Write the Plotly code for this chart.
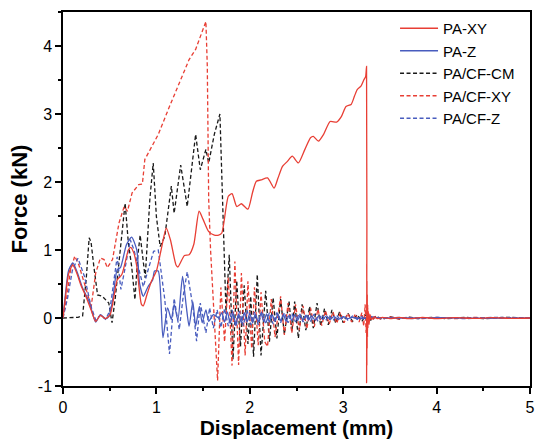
import plotly.graph_objects as go

# ---------------- data ----------------
pa_xy_x = [0, 0.03, 0.06, 0.105, 0.15, 0.19, 0.25, 0.30, 0.35, 0.40, 0.455, 0.505, 0.55, 0.58, 0.63,
           0.70, 0.725, 0.76, 0.79, 0.84, 0.86, 0.90, 0.95, 1.00, 1.05, 1.106, 1.15, 1.21, 1.23, 1.30,
           1.35, 1.40, 1.457, 1.50, 1.56, 1.62, 1.667, 1.70, 1.77, 1.81, 1.86, 1.91, 1.98, 2.03, 2.07,
           2.12, 2.19, 2.26, 2.30, 2.35, 2.40, 2.455, 2.52, 2.59, 2.65, 2.68, 2.735, 2.79, 2.86, 2.93,
           2.98, 3.03, 3.085, 3.12, 3.15, 3.19, 3.22, 3.24, 3.25, 3.2505, 3.252, 3.2535, 3.255, 3.2565,
           3.258, 3.26, 3.262, 3.265, 3.268, 3.272, 3.277, 3.283, 3.29, 3.30, 3.33, 3.37, 3.42, 3.50,
           3.60, 3.70, 3.85, 4.00, 4.20, 4.40, 4.60, 4.80, 5.00]
pa_xy_y = [0, 0.35, 0.65, 0.78, 0.65, 0.49, 0.30, 0.12, -0.05, 0.04, -0.01, 0.05, 0.35, 0.56, 0.64,
           1.00, 1.04, 0.95, 0.76, 0.20, 0.18, 0.35, 0.55, 0.69, 1.00, 1.32, 1.15, 0.78, 0.75, 0.92,
           0.93, 1.08, 1.57, 1.45, 1.27, 1.22, 1.22, 1.25, 1.79, 1.83, 1.64, 1.68, 1.60, 1.85, 2.01,
           2.03, 2.06, 1.91, 2.05, 2.23, 2.30, 2.38, 2.28, 2.48, 2.65, 2.67, 2.60, 2.70, 2.89, 2.88,
           2.96, 3.11, 3.14, 3.26, 3.36, 3.41, 3.50, 3.55, 3.70, -0.95, 0.80, -0.70, 0.55, -0.45,
           0.35, -0.28, 0.20, -0.15, 0.10, -0.08, 0.06, -0.04, 0.03, -0.02, 0.015, -0.01, 0.01, -0.01,
           0.01, -0.01, 0.008, -0.008, 0.006, -0.006, 0.005, -0.005, 0.0]

pa_z_x = [0, 0.03, 0.06, 0.105, 0.15, 0.21, 0.28, 0.35, 0.40, 0.455, 0.49, 0.53, 0.58, 0.615, 0.68,
          0.735, 0.79, 0.82, 0.86, 0.91, 0.96, 0.98, 1.02, 1.07, 1.12, 1.16, 1.19, 1.23, 1.28, 1.32,
          1.35, 1.39, 1.42, 1.46, 1.49, 1.53, 1.56, 1.61, 1.67, 1.70, 1.73, 1.76, 1.79, 1.82, 1.85,
          1.88, 1.91, 1.94, 1.97, 2.00, 2.03, 2.06, 2.09, 2.12, 2.15, 2.18, 2.21, 2.24, 2.27, 2.30,
          2.33, 2.36, 2.39, 2.42, 2.45, 2.48, 2.51, 2.54, 2.57, 2.60, 2.63, 2.66, 2.70, 2.74, 2.78,
          2.82, 2.86, 2.90, 2.95, 3.00, 3.05, 3.10, 3.20, 3.30, 3.50, 4.00, 4.50, 5.00]
pa_z_y = [0, 0.40, 0.70, 0.81, 0.68, 0.44, 0.24, -0.06, 0.05, -0.01, 0.02, 0.25, 0.71, 0.74, 1.08,
          1.19, 1.00, 0.51, 0.32, 0.46, 0.56, 0.69, 0.69, -0.29, 0.15, -0.02, 0.20, -0.03, 0.61, 0.17,
          -0.12, 0.24, -0.12, 0.17, -0.07, 0.12, -0.05, 0.05, 0.00, 0.08, -0.06, 0.09, -0.08, 0.07, -0.09,
          0.06, -0.07, 0.08, -0.06, 0.07, -0.07, 0.06, -0.06, 0.07, -0.05, 0.06, -0.06, 0.05, -0.05, 0.06,
          -0.04, 0.05, -0.05, 0.04, -0.04, 0.05, -0.04, 0.04, -0.03, 0.04, -0.03, 0.03, -0.03, 0.03, -0.02,
          0.03, -0.02, 0.02, -0.02, 0.02, -0.01, 0.01, -0.01, 0.01, 0.0, 0.005, -0.005, 0.0]

cf_cm_x = [0, 0.10, 0.16, 0.21, 0.25, 0.28, 0.30, 0.33, 0.37, 0.42, 0.49, 0.525, 0.56, 0.595, 0.665,
           0.70, 0.735, 0.77, 0.80, 0.826, 0.88, 0.93, 0.966, 1.00, 1.04, 1.09, 1.16, 1.19, 1.26, 1.33,
           1.42, 1.47, 1.53, 1.56, 1.62, 1.68, 1.70, 1.72, 1.745, 1.78, 1.82, 1.86, 1.90, 1.94, 1.98,
           2.01, 2.04, 2.08, 2.12, 2.17, 2.21, 2.25, 2.29, 2.33, 2.37, 2.42, 2.45, 2.48, 2.52, 2.56,
           2.60, 2.64, 2.68, 2.72, 2.76, 2.80, 2.84, 2.88, 2.92, 2.96, 3.00, 3.05, 3.10, 3.15, 3.20,
           3.25, 3.30, 3.35, 3.42, 3.50, 3.60, 3.70, 3.80, 3.95, 4.10, 4.30, 4.50, 4.75, 5.00]
cf_cm_y = [0, 0.00, 0.01, 0.03, 0.60, 1.18, 1.12, 0.76, 0.34, 0.32, 0.22, -0.07, 0.30, 0.76, 1.69,
           1.10, 0.76, 0.27, 0.90, 1.22, 0.59, 1.75, 2.28, 1.49, 1.05, 1.20, 1.94, 1.54, 2.25, 1.64,
           2.70, 2.18, 2.48, 2.28, 2.70, 3.00, 2.00, 1.00, 0.10, 0.93, -0.61, 0.55, -0.42, 0.48, -0.38,
           0.32, -0.57, 0.64, -0.55, 0.40, -0.35, 0.30, -0.30, 0.28, -0.24, 0.25, -0.20, 0.24, -0.30, 0.20,
           -0.18, 0.17, -0.15, 0.22, -0.12, 0.14, -0.10, 0.12, -0.08, 0.09, -0.07, 0.07, -0.05, 0.05, -0.05,
           0.06, -0.04, 0.03, -0.02, 0.02, -0.015, 0.015, -0.01, 0.01, -0.01, 0.01, -0.01, 0.01, 0.0]

cf_xy_x = [0, 0.04, 0.08, 0.126, 0.17, 0.21, 0.27, 0.30, 0.35, 0.40, 0.44, 0.475, 0.53, 0.60, 0.655,
           0.69, 0.74, 0.81, 0.85, 0.876, 0.95, 1.02, 1.14, 1.25, 1.35, 1.42, 1.51, 1.53, 1.545, 1.56,
           1.58, 1.61, 1.635, 1.655, 1.69, 1.73, 1.77, 1.81, 1.84, 1.88, 1.91, 1.95, 1.98, 2.02, 2.05,
           2.09, 2.12, 2.16, 2.19, 2.23, 2.27, 2.33, 2.37, 2.41, 2.45, 2.49, 2.53, 2.57, 2.61, 2.65,
           2.69, 2.73, 2.77, 2.81, 2.85, 2.89, 2.93, 2.97, 3.01, 3.05, 3.09, 3.13, 3.17, 3.20, 3.22,
           3.235, 3.245, 3.26, 3.275, 3.29, 3.31, 3.35, 3.40, 3.50, 3.60, 3.70, 3.85, 4.00, 4.20, 4.40,
           4.60, 4.80, 5.00]
cf_xy_y = [0, 0.30, 0.70, 0.91, 0.78, 0.61, 0.32, 0.15, 0.66, 0.88, 0.86, 0.74, 0.86, 1.40, 1.64,
           1.57, 1.84, 1.96, 1.97, 2.33, 2.52, 2.70, 3.11, 3.46, 3.80, 3.95, 4.31, 4.36, 3.70, 1.74,
           1.00, 0.22, -0.50, -0.92, 0.45, -0.35, 0.60, -0.70, 0.83, -0.69, 0.66, -0.55, 0.54, -0.45, 0.45,
           -0.40, 0.38, -0.35, -0.42, 0.28, -0.28, 0.32, -0.25, 0.22, -0.22, 0.20, -0.18, 0.18, -0.16, 0.15,
           -0.13, 0.13, -0.11, 0.11, -0.09, 0.09, -0.08, 0.08, -0.07, 0.07, -0.06, 0.06, -0.06, 0.08, -0.12,
           0.20, -0.22, 0.15, -0.10, 0.06, -0.04, 0.03, -0.02, 0.015, -0.015, 0.01, -0.01, 0.01, -0.01, 0.01,
           -0.005, 0.005, 0.0]

cf_z_x = [0, 0.05, 0.10, 0.16, 0.23, 0.30, 0.35, 0.40, 0.455, 0.50, 0.58, 0.62, 0.66, 0.72, 0.76,
          0.81, 0.86, 0.92, 0.97, 1.02, 1.09, 1.14, 1.19, 1.245, 1.29, 1.33, 1.39, 1.43, 1.47, 1.53,
          1.57, 1.61, 1.65, 1.69, 1.73, 1.77, 1.81, 1.85, 1.89, 1.93, 1.97, 2.01, 2.05, 2.09, 2.13,
          2.17, 2.21, 2.25, 2.29, 2.33, 2.37, 2.41, 2.45, 2.49, 2.53, 2.57, 2.61, 2.65, 2.69, 2.73,
          2.77, 2.81, 2.85, 2.89, 2.93, 2.97, 3.01, 3.05, 3.10, 3.15, 3.20, 3.25, 3.30, 3.40, 3.55,
          3.75, 4.00, 4.30, 4.60, 5.00]
cf_z_y = [0, 0.30, 0.70, 0.88, 0.61, 0.17, -0.03, 0.04, -0.02, 0.10, 0.90, 0.42, 0.70, 1.15, 1.00,
          0.75, 0.46, 0.75, 0.98, 1.00, 0.27, -0.53, 0.29, -0.17, 0.35, 0.68, 0.17, -0.34, 0.22, -0.22,
          0.15, -0.15, 0.12, -0.14, 0.14, -0.12, 0.12, -0.13, 0.10, -0.11, 0.12, -0.10, 0.09, -0.10, 0.10,
          -0.09, 0.08, -0.09, 0.08, -0.07, 0.08, -0.07, 0.07, -0.06, 0.07, -0.06, 0.06, -0.05, 0.06, -0.05,
          0.05, -0.04, 0.04, -0.04, 0.04, -0.03, 0.03, -0.03, 0.03, -0.02, 0.02, -0.03, 0.02, -0.01, 0.01,
          -0.01, 0.01, -0.01, 0.01, 0.0]

x_ticks = [0, 1, 2, 3, 4, 5]
y_ticks = [-1, 0, 1, 2, 3, 4]

RED = "rgb(232,62,52)"
BLUE = "rgb(72,92,190)"
BLACK = "rgb(25,25,25)"
FONT = "Liberation Sans, Arial, sans-serif"

fig = go.Figure()
fig.add_trace(go.Scatter(x=cf_cm_x, y=cf_cm_y, mode="lines", name="PA/CF-CM", legendrank=3,
                         line=dict(color=BLACK, width=1.3, dash="4px,2.5px")))
fig.add_trace(go.Scatter(x=cf_xy_x, y=cf_xy_y, mode="lines", name="PA/CF-XY", legendrank=4,
                         line=dict(color=RED, width=1.3, dash="4px,2.5px")))
fig.add_trace(go.Scatter(x=cf_z_x, y=cf_z_y, mode="lines", name="PA/CF-Z", legendrank=5,
                         line=dict(color=BLUE, width=1.3, dash="4px,2.5px")))
fig.add_trace(go.Scatter(x=pa_z_x, y=pa_z_y, mode="lines", name="PA-Z", legendrank=2,
                         line=dict(color=BLUE, width=1.3, shape="spline", smoothing=0.6)))
fig.add_trace(go.Scatter(x=pa_xy_x, y=pa_xy_y, mode="lines", name="PA-XY", legendrank=1,
                         line=dict(color=RED, width=1.3, shape="spline", smoothing=0.6)))

axis_common = dict(showline=True, linecolor="black", linewidth=1.5, mirror=True,
                   ticks="outside", ticklen=6, tickwidth=1.5, tickcolor="black",
                   showgrid=False, zeroline=False,
                   tickfont=dict(family=FONT, size=16, color="black"))

fig.update_xaxes(range=[0, 5], tickvals=x_ticks, ticktext=[str(v) for v in x_ticks],
                 minor=dict(dtick=0.5, ticks="outside", ticklen=3, tickwidth=1.5, tickcolor="black"),
                 title=dict(text="<b>Displacement (mm)</b>", font=dict(family=FONT, size=21, color="black"),
                            standoff=4),
                 **axis_common)
fig.update_yaxes(range=[-1, 4.5], tickvals=y_ticks, ticktext=[str(v) for v in y_ticks],
                 minor=dict(dtick=0.5, ticks="outside", ticklen=3, tickwidth=1.5, tickcolor="black"),
                 title=dict(text="<b>Force (kN)</b>", font=dict(family=FONT, size=22, color="black"),
                            standoff=4),
                 **axis_common)

fig.update_layout(
    width=543, height=445,
    margin=dict(l=63, r=8, t=12, b=59),
    paper_bgcolor="white", plot_bgcolor="white",
    showlegend=True,
    legend=dict(x=0.711, xanchor="left", y=1.0, yanchor="top",
                font=dict(family=FONT, size=15, color="black"),
                bgcolor="rgba(0,0,0,0)", itemwidth=38, tracegroupgap=0),
)

fig.write_html("out.html", config={"displayModeBar": False},
               post_script="document.body.style.margin='0px';")
